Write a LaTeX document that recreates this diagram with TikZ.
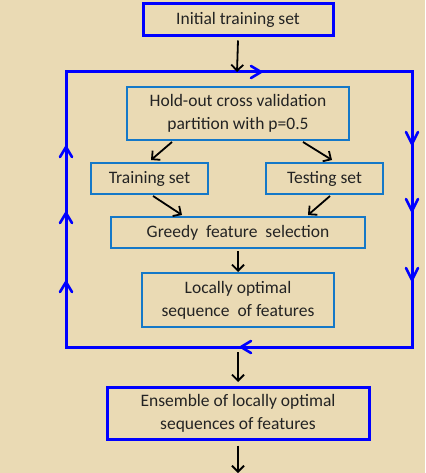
\documentclass[tikz,border=0pt]{standalone}
\usepackage{fontspec}
\setmainfont{Carlito}
\usetikzlibrary{arrows.meta}
\definecolor{parch}{RGB}{234,218,180}
\definecolor{lblue}{RGB}{20,120,200}
\definecolor{tgrey}{RGB}{35,35,35}
\begin{document}
\begin{tikzpicture}[x=1pt,y=-1pt,
  outerbox/.style={draw=blue,line width=3pt,text=tgrey,font=\fontsize{17.5}{23}\selectfont,align=center,inner sep=0pt},
  innerbox/.style={draw=lblue,line width=2pt,text=tgrey,font=\fontsize{17.5}{23}\selectfont,align=center,inner sep=0pt},
  flow/.style={draw=black,line width=1.8pt,-{Straight Barb[length=6pt,width=12pt,line width=1.8pt]}},
  loopline/.style={draw=blue,line width=3pt},
  barb/.style={draw=blue,line width=2.6pt,line cap=round,line join=round}
]
\useasboundingbox (0,0) rectangle (425,473);
\fill[parch] (0,0) rectangle (425,473);

\node[outerbox,minimum width=190pt,minimum height=32pt] (init) at (238,20) {Initial training set};
\node[innerbox,minimum width=222pt,minimum height=53pt] (hold) at (238,113.5) {Hold-out cross validation\\partition with p=0.5};
\node[innerbox,minimum width=117pt,minimum height=31pt] (train) at (149.5,178.5) {Training set};
\node[innerbox,minimum width=117pt,minimum height=31pt] (test) at (324.5,178.5) {Testing set};
\node[innerbox,minimum width=254pt,minimum height=31pt] (greedy) at (238,232.5) {Greedy\ \ feature\ \ selection};
\node[innerbox,minimum width=192pt,minimum height=54pt] (local) at (238,300) {Locally optimal\\sequence\ \ of features};
\node[outerbox,minimum width=262pt,minimum height=52pt] (ens) at (238,413) {Ensemble of locally optimal\\sequences of features};

\coordinate (tl) at (66,72);
\coordinate (tr) at (412,72);
\coordinate (br) at (412,347);
\coordinate (bl) at (66,347);
\coordinate (looptop) at (237,72);
\coordinate (loopbot) at (238,347);
\coordinate (endpt) at (238,473);

% loop
\draw[loopline] (tl) -- (tr) -- (br) -- (bl) -- cycle;
% direction marks (open barbs)
\draw[barb] (251,66) -- (261,72) -- (251,78);          % top, right
\draw[barb] (406,132) -- (412,144) -- (418,132);        % right, down
\draw[barb] (406,199) -- (412,211) -- (418,199);
\draw[barb] (406,268) -- (412,280) -- (418,268);
\draw[barb] (251,341) -- (241,347) -- (251,353);        % bottom, left
\draw[barb] (60,157) -- (66,147) -- (72,157);           % left, up
\draw[barb] (60,223) -- (66,213) -- (72,223);
\draw[barb] (60,292) -- (66,282) -- (72,292);

% flow arrows
\draw[flow] (init.south) ++(0,3) -- (looptop);
\draw[flow] (172,142) -- (151,160);
\draw[flow] (303,142) -- (332,160);
\draw[flow] (153,196) -- (182,215);
\draw[flow] (330,196) -- (308,215);
\draw[flow] (greedy.south) ++(0,2) -- (local.north);
\draw[flow] (loopbot) ++(0,5) -- (238,382);
\draw[flow] (ens.south) ++(0,5) -- (endpt);
\end{tikzpicture}
\end{document}
